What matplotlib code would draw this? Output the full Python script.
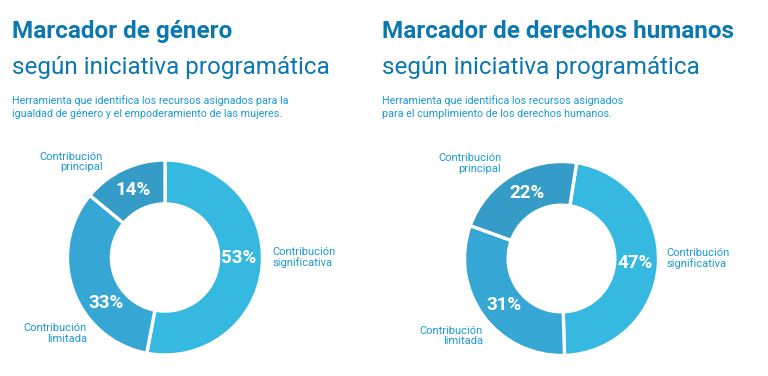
import matplotlib
matplotlib.use("Agg")
import matplotlib.pyplot as plt
import numpy as np

# Datos
categorias = ["Contribución\nsignificativa", "Contribución\nlimitada", "Contribución\nprincipal"]
genero = [53, 33, 14]
derechos = [47, 31, 22]

titulos = ["Marcador de género", "Marcador de derechos humanos"]
subtitulo = "según iniciativa programática"
descripciones = [
    ["Herramienta que identifica los recursos asignados para la",
     "igualdad de género y el empoderamiento de las mujeres."],
    ["Herramienta que identifica los recursos asignados",
     "para el cumplimiento de los derechos humanos."],
]

colores = ["#35b9e0", "#36a7d5", "#359cc8"]
azul_titulo = "#0b78b2"
azul_texto = "#1b9ad5"

plt.rcParams["font.family"] = ["Roboto", "DejaVu Sans"]

W, H = 768, 376
fig = plt.figure(figsize=(W / 100, H / 100), dpi=100)


def ftext(x, y, s, **kw):
    # posiciones en pixeles de la figura (y desde arriba)
    return fig.text(x / W, 1 - y / H, s, **kw)


def dona(cx, cy, r, valores, inicio, desplaz, pos_etq):
    ax = fig.add_axes([(cx - r) / W, (H - cy - r) / H, 2 * r / W, 2 * r / H])
    wedges, _ = ax.pie(valores, colors=colores, startangle=inicio, counterclock=False,
                       radius=1, wedgeprops=dict(width=0.45, edgecolor="white", linewidth=2.4))
    ax.set_xlim(-1, 1)
    ax.set_ylim(-1, 1)
    ax.set_aspect("equal")
    ax.axis("off")
    for w, v, d in zip(wedges, valores, desplaz):
        ang = np.deg2rad((w.theta1 + w.theta2) / 2 + d)
        ax.text(0.76 * np.cos(ang), 0.76 * np.sin(ang), f"{v}%", color="white",
                fontsize=13.5, fontweight="bold", ha="center", va="center")
    for cat, (x, y, ha) in zip(categorias, pos_etq):
        ax.text(x, y, cat, color=azul_texto, fontsize=8, ha=ha, va="center",
                linespacing=1.05, clip_on=False)


# Textos de encabezado
for x0, t, desc in zip([12, 382], titulos, descripciones):
    ftext(x0, 38, t, color=azul_titulo, fontsize=17.5, fontweight="bold", va="baseline")
    ftext(x0, 74, subtitulo, color=azul_titulo, fontsize=17.5, va="baseline")
    ftext(x0, 104, desc[0], color=azul_texto, fontsize=7.75, va="baseline")
    ftext(x0, 117, desc[1], color=azul_texto, fontsize=7.75, va="baseline")

dona(165, 257.5, 97.5, genero, 90, [5, 18, 0],
     [(1.10, 0.0, "left"), (-0.80, -0.78, "right"), (-0.64, 0.98, "right")])
dona(561.5, 258.5, 97, derechos, 81, [0, 3, -3],
     [(1.08, 0.0, "left"), (-0.81, -0.80, "right"), (-0.62, 0.98, "right")])

fig.savefig("out.png", dpi=100)
